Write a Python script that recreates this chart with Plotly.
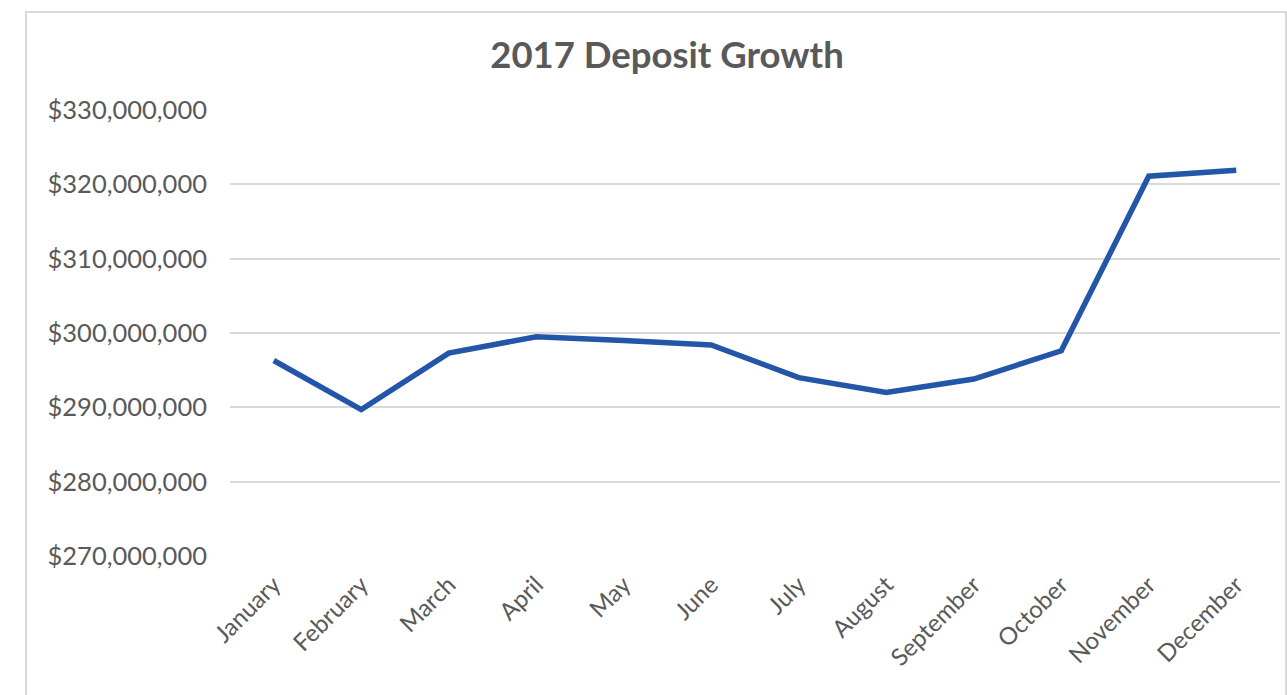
import plotly.graph_objects as go

months = ["January", "February", "March", "April", "May", "June", "July",
          "August", "September", "October", "November", "December"]
deposits = [296300000, 289700000, 297300000, 299500000, 299000000, 298400000,
            294000000, 292000000, 293800000, 297600000, 321100000, 321900000]
y_ticks = [270000000, 280000000, 290000000, 300000000, 310000000, 320000000, 330000000]
y_tick_labels = ["$270,000,000", "$280,000,000", "$290,000,000", "$300,000,000",
                 "$310,000,000", "$320,000,000", "$330,000,000"]

FONT = "Lato"
GREY = "#595959"

fig = go.Figure()
fig.add_trace(go.Scatter(
    x=list(range(len(months))), y=deposits, mode="lines",
    line=dict(color="#2355A8", width=5.5), hoverinfo="x+y", showlegend=False,
))

L, R, T, B = 230, 7, 110, 139
W, H = 1287, 695
pw, ph = W - L - R, H - T - B

fig.update_layout(
    width=W, height=H,
    margin=dict(l=L, r=R, t=T, b=B),
    paper_bgcolor="white", plot_bgcolor="white",
    font=dict(family=FONT, color=GREY),
    title=dict(text="<b>2017 Deposit Growth</b>", x=667 / W, xanchor="center",
               y=1 - 55 / H, yanchor="middle",
               font=dict(family=FONT, size=36.5, color=GREY)),
    xaxis=dict(range=[-0.5, 11.5], tickmode="array",
               tickvals=list(range(len(months))), ticktext=months,
               tickangle=-45, showgrid=False, zeroline=False, showline=False,
               ticks="", ticklabelstandoff=9,
               tickfont=dict(family=FONT, size=24, color=GREY)),
    yaxis=dict(range=[270000000, 330000000], tickmode="array",
               tickvals=y_ticks, ticktext=y_tick_labels,
               showgrid=True, gridcolor="#d9d9d9", gridwidth=1.5,
               zeroline=False, showline=False, ticks="",
               ticklabelstandoff=22,
               tickfont=dict(family=FONT, size=25.5, color=GREY)),
)

# outer chart frame
fig.add_shape(type="rect", xref="paper", yref="paper",
              x0=(26 - L) / pw, x1=(1286 - L) / pw,
              y0=(H - B - 720) / ph, y1=(H - B - 12) / ph,
              line=dict(color="#d9d9d9", width=2), fillcolor="rgba(0,0,0,0)",
              layer="below")

fig.write_html("out.html")
